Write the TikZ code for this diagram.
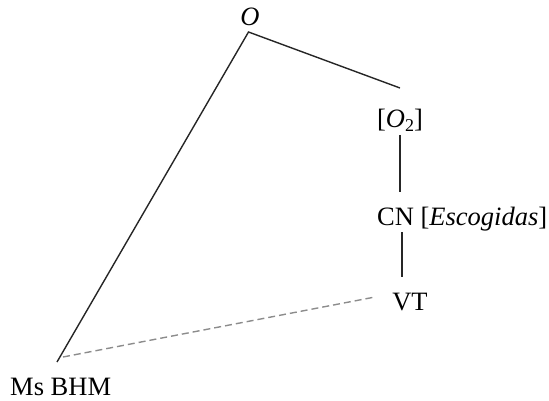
\documentclass[tikz,border=0pt]{standalone}
\usepackage{fontspec}
\setmainfont{Liberation Serif}
\begin{document}
\begin{tikzpicture}[x=1pt,y=-1pt,
  lbl/.style={inner sep=0pt, font=\fontsize{26.5}{30}\selectfont},
  branch/.style={line width=1.4pt, black!85},
  link/.style={line width=1.4pt, gray!90, dash pattern=on 7pt off 4pt}]
\useasboundingbox (0,0) rectangle (549,401);
\node[lbl, anchor=base] (O) at (250,26) {\textit{O}};
\node[lbl, anchor=base] (O2) at (400,128) {[\textit{O}\raisebox{-0.25ex}{\fontsize{18}{18}\selectfont 2}]};
\node[lbl, anchor=base west] (CN) at (377,225) {CN [\textit{Escogidas}]};
\node[lbl, anchor=base] (VT) at (410,310) {VT};
\node[lbl, anchor=base west] (MS) at (10,395) {Ms BHM};
\coordinate (vO) at (248.5,32);
\coordinate (eO2) at (400,88);
\coordinate (tO2) at (400,135);
\coordinate (bO2) at (400,192);
\coordinate (tCN) at (402,232);
\coordinate (bCN) at (402,277);
\coordinate (eMS) at (57,362);
\coordinate (dMS) at (63,357);
\coordinate (dVT) at (375,297);
\draw[branch] (eMS) -- (vO) -- (eO2);
\draw[branch] (tO2) -- (bO2);
\draw[branch] (tCN) -- (bCN);
\draw[link] (dMS) -- (dVT);
\end{tikzpicture}
\end{document}
